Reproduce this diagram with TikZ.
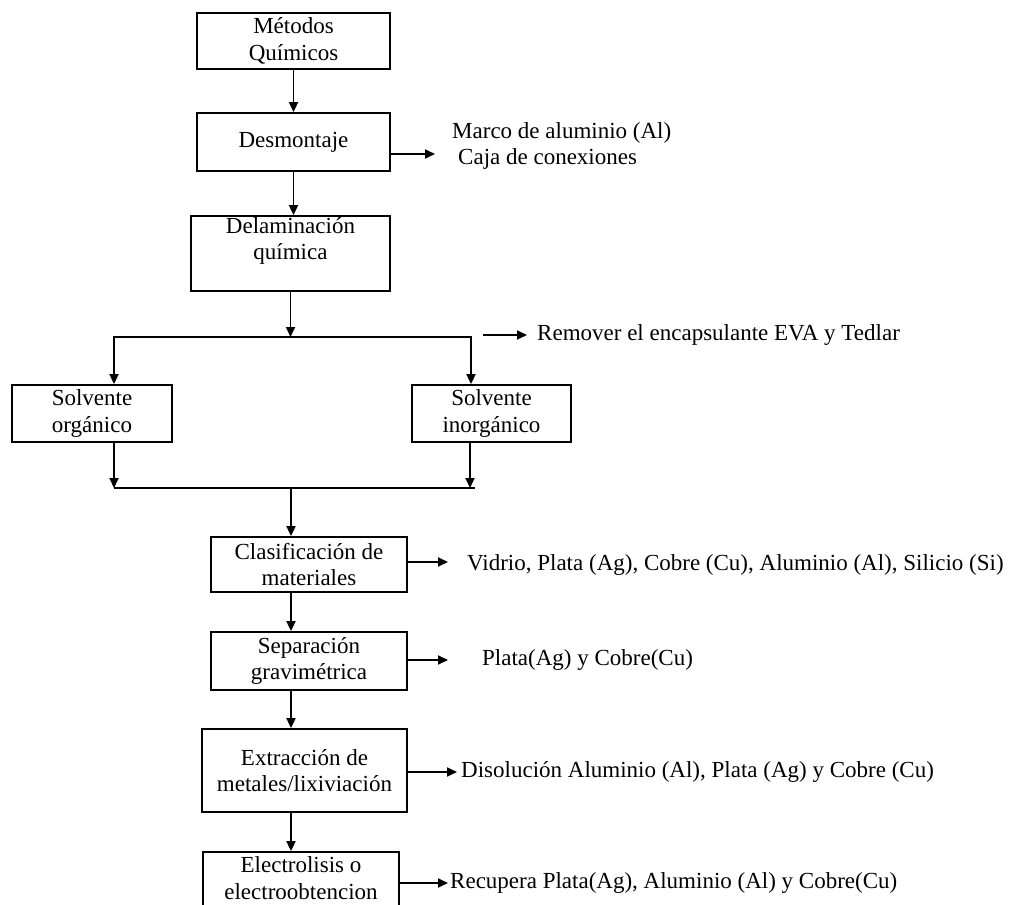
\documentclass[tikz,border=0pt]{standalone}
\usepackage{fontspec}
\setmainfont{Liberation Serif}
\usetikzlibrary{arrows.meta}
\begin{document}
\begin{tikzpicture}[x=1pt,y=-1pt,
  font=\fontsize{23}{26.5}\selectfont,
  stepbox/.style={draw, line width=1.8pt, inner sep=0pt, align=center},
  flow/.style={line width=1.8pt, -{Triangle[length=10pt,width=9pt]}},
  plain/.style={line width=1.8pt},
  note/.style={inner sep=0pt, anchor=west, align=left}]
\useasboundingbox (0,0) rectangle (1013,905);
\clip (0,0) rectangle (1013,905);

% main process steps
\node[stepbox, minimum width=193pt, minimum height=56pt] (met) at (293.5,41) {Métodos\\Químicos};
\node[stepbox, minimum width=193pt, minimum height=58pt] (desm) at (293.5,142) {Desmontaje};
\node[stepbox, minimum width=199pt, minimum height=75pt] (delam) at (290.5,253.5) {};
\node[inner sep=0pt, align=center] (delamtxt) at (290.5,241) {Delaminación\\química};
\node[stepbox, minimum width=160pt, minimum height=57pt] (solvO) at (92,413.5) {Solvente\\orgánico};
\node[stepbox, minimum width=159pt, minimum height=57pt] (solvI) at (491.5,413.5) {Solvente\\inorgánico};
\node[stepbox, minimum width=196pt, minimum height=55pt] (clas) at (309,564.5) {Clasificación de\\materiales};
\node[stepbox, minimum width=196pt, minimum height=58pt] (sep) at (309,661) {Separación\\gravimétrica};
\node[stepbox, minimum width=205pt, minimum height=83pt] (ext) at (304.5,770.5) {Extracción de\\metales/lixiviación};
\node[stepbox, minimum width=196pt, minimum height=58pt] (elec) at (301,881) {};
\node[inner sep=0pt, align=center] (electxt) at (301,878) {Electrolisis o\\electroobtencion};

% side outputs
\node[note] (desmout) at (452,146) {Marco de aluminio (Al)\\\hspace*{6pt}Caja de conexiones};
\node[note] (remtxt) at (537,335) {Remover el encapsulante EVA y Tedlar};
\node[note] (clasout) at (467,565) {Vidrio, Plata (Ag), Cobre (Cu), Aluminio (Al), Silicio (Si)};
\node[note] (sepout) at (482,660) {Plata(Ag) y Cobre(Cu)};
\node[note] (extout) at (461,772) {Disolución Aluminio (Al), Plata (Ag) y Cobre (Cu)};
\node[note] (elecout) at (450,883) {Recupera Plata(Ag), Aluminio (Al) y Cobre(Cu)};

% junction points
\coordinate (split) at (290.5,337);
\coordinate (bl) at (114,337);
\coordinate (br) at (471,337);
\coordinate (ml) at (114,488);
\coordinate (mr) at (470,488);
\coordinate (mend) at (475,488);
\coordinate (merge) at (291,488);
\coordinate (rm) at (483,335);
\coordinate (d1) at (435,154);
\coordinate (c1) at (448,562);
\coordinate (s1) at (448,660);
\coordinate (e1) at (457,772);
\coordinate (l1) at (448,883);

% vertical flow
\draw[flow] (met) -- (desm);
\draw[flow] (desm.south) -- (desm.south |- delam.north);
\draw[flow] (delam.south -| split) -- (split);
\draw[flow] (split) -| (bl |- solvO.north);
\draw[flow] (split) -| (br |- solvI.north);
\draw[flow] (solvO.south -| ml) -- (ml);
\draw[flow] (solvI.south -| mr) -- (mr);
\draw[plain] (ml) -- (mend);
\draw[flow] (merge) -- (merge |- clas.north);
\draw[flow] (clas.south -| merge) -- (sep.north -| merge);
\draw[flow] (sep.south -| merge) -- (ext.north -| merge);
\draw[flow] (ext.south -| merge) -- (elec.north -| merge);

% outputs to the right
\draw[flow] (desm.east |- d1) -- (d1);
\draw[flow] (rm) -- ([xshift=-10pt]remtxt.west);
\draw[flow] (clas.east |- c1) -- (c1);
\draw[flow] (sep.east |- s1) -- (s1);
\draw[flow] (ext.east |- e1) -- (e1);
\draw[flow] (elec.east |- l1) -- (l1);
\end{tikzpicture}
\end{document}
